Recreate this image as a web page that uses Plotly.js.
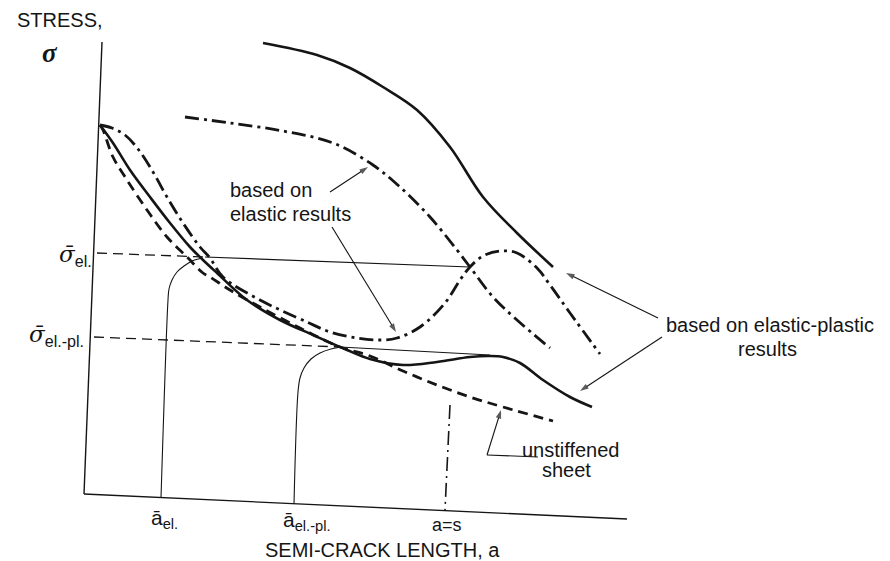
<!DOCTYPE html>
<html>
<head>
<meta charset="utf-8">
<script src="https://cdn.plot.ly/plotly-3.0.1.min.js"></script>
<style>html,body{margin:0;padding:0;background:#fff;}#chart{width:890px;height:561px;}</style>
</head>
<body>
<div id="chart"></div>
<script>
const unstiffenedX = [100,103,113,127,147,167,187,203,210,230,260,300,340,370,403,437,470,503,553];
const unstiffenedY = [125,130,157,180,210,237,257,273,277,290,307,328,347,356,371,385,397,407,421];

const elPlLowerX = [100,113,130,150,170,190,203,217,247,280,313,347,370,403,437,470,490,503,520,543,570,592];
const elPlLowerY = [125,143,170,197,223,247,260,273,300,320,335,350,359,365,362,357,356,357,363,380,397,407];

const elasticLowerX = [100,112,125,138,153,167,183,200,210,223,260,307,330,357,380,397,420,445,460,470,483,500,517,537,550,570,600];
const elasticLowerY = [125,128,135,149,172,197,223,247,258,277,300,322,332,338,340,338,327,303,280,267,256,251,253,268,285,313,354];

const elasticUpperX = [185,230,283,333,373,400,430,457,470,493,517,550];
const elasticUpperY = [117,123,131,143,165,187,217,250,267,297,320,348];

const elPlUpperX = [263,317,350,383,417,450,483,517,553];
const elPlUpperY = [43,55,68,87,110,147,197,233,267];

const yAxisX = [102,84], yAxisY = [42,494];
const xAxisX = [84,627], xAxisY = [494,519];

const sigmaElDashX = [97,205], sigmaElDashY = [253,257];
const sigmaElSolidX = [205,470], sigmaElSolidY = [257,267];
const sigmaElPlDashX = [94,340], sigmaElPlDashY = [337,347];
const sigmaElPlSolidX = [340,490], sigmaElPlSolidY = [347,355];

const aElX = [161,168,169,172,177,184,192,203];
const aElY = [498,300,289,280,272,266,261,258];
const aElPlX = [294,298,300,304,311,320,331,342];
const aElPlY = [504,392,378,368,359,353,349,347];
const aEqSX = [450,445], aEqSY = [405,510];

const leaderX = [538,487], leaderY = [457,455];

// arrows: [tailX, tailY, headX, headY]
const arrows = [
  [330,192,368,167],
  [332,227,396,332],
  [658,318,566,273],
  [662,337,580,391],
  [487,455,501,410]
];

// labels: [text, x, y, size, xanchor]
const labels = [
  ['STRESS,', 15, 20, 20, 'left'],
  ['based on', 228, 190, 20, 'left'],
  ['elastic results', 228, 214, 20, 'left'],
  ['based on elastic-plastic', 770, 325, 20, 'center'],
  ['results', 767, 349, 20, 'center'],
  ['unstiffened', 571, 450, 20, 'center'],
  ['sheet', 566, 470, 20, 'center'],
  ['SEMI-CRACK LENGTH, a', 382, 550, 20, 'center'],
  ['a=s', 447, 525, 18, 'center']
];
// tick labels with subscripts: [base, sub, x, y]
const xTickLabels = [
  ['ā', 'el.', 149, 519],
  ['ā', 'el.-pl.', 281, 521]
];
const yTickLabels = [
  ['σ\u0304', 'el.', 57, 255],
  ['σ\u0304', 'el.-pl.', 27, 335]
];

const ink = '#151515';
function line(x, y, width, dash, spline) {
  return {x: x, y: y, type: 'scatter', mode: 'lines', hoverinfo: 'skip',
    line: {color: ink, width: width, dash: dash || 'solid', shape: spline ? 'spline' : 'linear', smoothing: 1}};
}

const data = [
  line(yAxisX, yAxisY, 1.4),
  line(xAxisX, xAxisY, 1.4),
  line(sigmaElDashX, sigmaElDashY, 1.3, '10px,6px'),
  line(sigmaElSolidX, sigmaElSolidY, 1.1),
  line(sigmaElPlDashX, sigmaElPlDashY, 1.3, '10px,6px'),
  line(sigmaElPlSolidX, sigmaElPlSolidY, 1.1),
  line(aElX, aElY, 1.1, null, true),
  line(aElPlX, aElPlY, 1.1, null, true),
  line(aEqSX, aEqSY, 1.6, '14px,5px,2px,5px'),
  line(leaderX, leaderY, 1.1),
  line(unstiffenedX, unstiffenedY, 2.8, '10px,6px', true),
  line(elPlLowerX, elPlLowerY, 2.6, null, true),
  line(elasticLowerX, elasticLowerY, 2.8, '14px,5px,3px,5px', true),
  line(elasticUpperX, elasticUpperY, 2.8, '14px,5px,3px,5px', true),
  line(elPlUpperX, elPlUpperY, 2.6, null, true)
];
arrows.forEach(a => data.push({
  x: [a[0], a[2]], y: [a[1], a[3]], type: 'scatter', mode: 'lines+markers', hoverinfo: 'skip',
  line: {color: ink, width: 1.1},
  marker: {symbol: ['circle', 'arrow'], size: [0, 9], angleref: 'previous', color: ink, line: {width: 0}}
}));

const annotations = [];
labels.forEach(l => annotations.push({
  x: l[1], y: l[2], xref: 'x', yref: 'y', text: l[0], showarrow: false,
  xanchor: l[4], yanchor: 'middle', font: {family: 'Liberation Sans', size: l[3], color: ink}
}));
xTickLabels.forEach(l => annotations.push({
  x: l[2], y: l[3], xref: 'x', yref: 'y', text: l[0] + '<sub>' + l[1] + '</sub>', showarrow: false,
  xanchor: 'left', yanchor: 'middle', font: {family: 'Liberation Sans', size: 21, color: ink}
}));
yTickLabels.forEach(l => annotations.push({
  x: l[2], y: l[3], xref: 'x', yref: 'y',
  text: '<i>' + l[0] + '</i><sub><span style="font-family:Liberation Sans">' + l[1] + '</span></sub>',
  showarrow: false, xanchor: 'left', yanchor: 'middle',
  font: {family: 'DejaVu Serif', size: 23, color: ink}
}));
annotations.push({x: 50, y: 53, xref: 'x', yref: 'y', text: '<b><i>σ</i></b>', showarrow: false,
  xanchor: 'center', yanchor: 'middle', font: {family: 'Liberation Serif', size: 27, color: ink}});

const layout = {
  width: 890, height: 561,
  margin: {l: 0, r: 0, t: 0, b: 0},
  paper_bgcolor: '#fff', plot_bgcolor: '#fff',
  showlegend: false,
  xaxis: {range: [0, 890], visible: false, fixedrange: true},
  yaxis: {range: [561, 0], visible: false, fixedrange: true},
  annotations: annotations
};

Plotly.newPlot('chart', data, layout, {staticPlot: true, displayModeBar: false});
</script>
</body>
</html>
